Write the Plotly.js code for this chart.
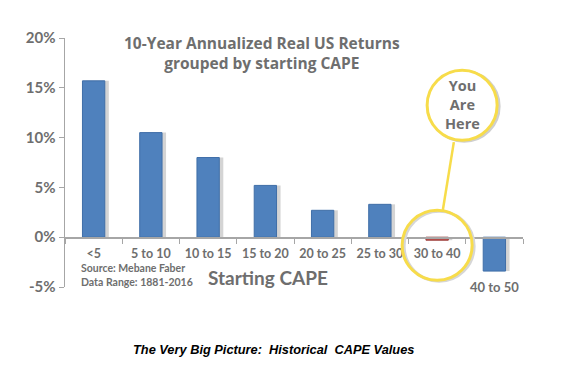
<!DOCTYPE html>
<html>
<head>
<meta charset="utf-8">
<script src="https://cdn.plot.ly/plotly-3.0.1.min.js"></script>
<style>
html,body{margin:0;padding:0;background:#fff;}
#chart{width:572px;height:368px;}
</style>
</head>
<body>
<div id="chart"></div>
<script>
const categories = ['<5', '5 to 10', '10 to 15', '15 to 20', '20 to 25', '25 to 30', '30 to 40', '40 to 50'];
const returns = [15.7, 10.5, 8.0, 5.2, 2.7, 3.3, -0.3, -3.4];
const yTicks = [-5, 0, 5, 10, 15, 20];
const titleLines = ['10-Year Annualized Real US Returns', 'grouped by starting CAPE'];
const calloutLines = ['You', 'Are', 'Here'];
const sourceLines = ['Source: Mebane Faber', 'Data Range: 1881-2016'];
const highlighted = '30 to 40';
const belowLabel = '40 to 50';

const FONT = 'Lato, "DejaVu Sans", sans-serif';
const FONT2 = '"Open Sans", Lato, sans-serif';
const GREY = '#6e6e6e';
const BLUE = '#4f81bd';
const RED = '#c0504d';

const barColors = categories.map(c => c === highlighted ? RED : BLUE);
const lineColors = categories.map(c => c === highlighted ? '#9c3a38' : '#3f6ea8');

const shadow = {
  type: 'bar', x: categories, y: returns,
  width: 0.39, offset: -0.125,
  marker: {color: '#d4d4d4', line: {width: 0}},
  hoverinfo: 'skip'
};
const bars = {
  type: 'bar', x: categories, y: returns,
  width: 0.39, offset: -0.195,
  marker: {color: barColors, line: {color: lineColors, width: 1}},
  hoverinfo: 'skip'
};

const hi = categories.indexOf(highlighted);
const yellow = '#f7dc4a';

const annotations = [
  {text: '<b>' + titleLines.join('<br>') + '</b>', xref: 'paper', yref: 'paper',
   x: 0.431, y: 0.94, xanchor: 'center', yanchor: 'middle', align: 'center',
   showarrow: false, font: {family: FONT2, size: 15.5, color: GREY}},
  {text: '<b>' + calloutLines.join('<br>') + '</b>', xref: 'x', yref: 'y', x: hi, y: 0,
   xshift: 25, yshift: 133, yanchor: 'middle', align: 'center',
   showarrow: false, font: {family: FONT2, size: 14.5, color: GREY}},
  {text: '<b>' + sourceLines.join('<br>') + '</b>', xref: 'paper', yref: 'paper',
   x: 0.03, y: 0.048, xanchor: 'left', yanchor: 'middle', align: 'left',
   showarrow: false, font: {family: FONT, size: 10.5, color: GREY}},
  {text: '<b>Starting CAPE</b>',
   xref: 'paper', yref: 'paper', x: 0.443, y: 0.04, xanchor: 'center', yanchor: 'middle',
   showarrow: false, font: {family: FONT, size: 19, color: GREY}},
  {text: '<b>' + belowLabel + '</b>',
   xref: 'x', yref: 'y', x: belowLabel, y: returns[categories.indexOf(belowLabel)],
   yanchor: 'top', yshift: -6,
   showarrow: false, font: {family: FONT, size: 13, color: GREY}},
  {text: '<b><i>The Very Big Picture:  Historical  CAPE Values</i></b>',
   xref: 'paper', yref: 'paper', x: 0.455, y: -0.25, xanchor: 'center', yanchor: 'middle',
   showarrow: false, font: {family: 'Arial, "Liberation Sans", sans-serif', size: 12.8, color: '#000'}}
];

const layout = {
  width: 572, height: 368,
  margin: {l: 65, r: 49, t: 38, b: 81},
  paper_bgcolor: '#fff', plot_bgcolor: '#fff',
  barmode: 'overlay',
  showlegend: false,
  hovermode: false,
  font: {family: FONT, color: GREY},
  xaxis: {
    type: 'category',
    range: [-0.5, categories.length - 0.5],
    tickmode: 'array',
    tickvals: categories,
    ticktext: categories.map(c => c === belowLabel ? '' : '<b>' + c.replace('<', '&lt;') + '</b>'),
    tickangle: 0,
    anchor: 'free', position: 0.2,
    showline: true, linecolor: '#a6a6a6', linewidth: 1.5,
    ticks: 'outside', ticklen: 5, tickcolor: '#a6a6a6', tickson: 'boundaries',
    ticklabelstandoff: 4,
    tickfont: {family: FONT, size: 12.5, color: GREY},
    showgrid: false, zeroline: false, fixedrange: true
  },
  yaxis: {
    range: [-5, 20],
    tickmode: 'array',
    tickvals: yTicks,
    ticktext: yTicks.map(v => '<b>' + v + '%</b>'),
    showline: true, linecolor: '#a6a6a6', linewidth: 1.5,
    ticks: 'outside', ticklen: 5, tickcolor: '#a6a6a6',
    tickfont: {family: FONT, size: 15, color: GREY},
    showgrid: false, zeroline: false, fixedrange: true
  },
  shapes: [
    {type: 'line', xref: 'paper', yref: 'paper', x0: 0.849, y0: 0.582, x1: 0.825, y1: 0.309,
     line: {color: yellow, width: 2.5}, layer: 'below'},
    {type: 'circle', xref: 'x', yref: 'y', xsizemode: 'pixel', ysizemode: 'pixel',
     xanchor: hi, yanchor: 0, x0: -8, x1: 62, y0: 96, y1: 166,
     line: {color: '#cfcfcf', width: 3}, fillcolor: 'rgba(0,0,0,0)'},
    {type: 'circle', xref: 'x', yref: 'y', xsizemode: 'pixel', ysizemode: 'pixel',
     xanchor: hi, yanchor: 0, x0: -10, x1: 60, y0: 97, y1: 167,
     line: {color: yellow, width: 3}, fillcolor: '#ffffff'},
    {type: 'circle', xref: 'x', yref: 'y', xsizemode: 'pixel', ysizemode: 'pixel',
     xanchor: hi, yanchor: 0, x0: -33, x1: 37, y0: -44, y1: 26,
     line: {color: '#d6d6d6', width: 3}, fillcolor: 'rgba(0,0,0,0)'},
    {type: 'circle', xref: 'x', yref: 'y', xsizemode: 'pixel', ysizemode: 'pixel',
     xanchor: hi, yanchor: 0, x0: -35, x1: 35, y0: -43, y1: 27,
     line: {color: yellow, width: 3}, fillcolor: 'rgba(0,0,0,0)'}
  ],
  annotations: annotations
};

Plotly.newPlot('chart', [shadow, bars], layout, {displayModeBar: false, staticPlot: true});
</script>
</body>
</html>
